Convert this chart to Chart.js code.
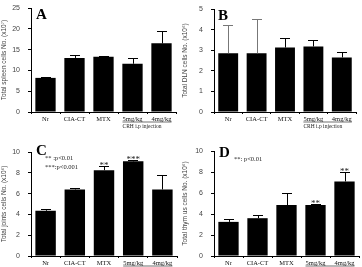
<!DOCTYPE html>
<html>
<head>
<meta charset="utf-8">
<script src="https://cdn.jsdelivr.net/npm/chart.js@4.4.0/dist/chart.umd.min.js"></script>
<style>
  html, body { margin: 0; padding: 0; background: #fff; }
  #wrap { position: relative; width: 362px; height: 267px; overflow: hidden; }
  canvas { position: absolute; }
</style>
</head>
<body>
<div id="wrap">
  <canvas id="cA" width="181" height="134" style="left:0;top:0"></canvas>
  <canvas id="cB" width="181" height="134" style="left:181px;top:0"></canvas>
  <canvas id="cC" width="181" height="133" style="left:0;top:134px"></canvas>
  <canvas id="cD" width="181" height="133" style="left:181px;top:134px"></canvas>
</div>
<script>
// groups on the x axis
const categories = ['Nr', 'CIA-CT', 'MTX', '5mg/kg', '4mg/kg'];

// A - spleen (x10^7)
const spleenMean = [8.2, 13.0, 13.3, 11.6, 16.5];
const spleenErr = [0.2, 0.8, 0.2, 1.4, 2.9];
const spleenTicks = [0, 5, 10, 15, 20, 25];

// B - DLN (x10^6)
const dlnMean = [2.85, 2.85, 3.13, 3.18, 2.65];
const dlnErr = [1.35, 1.65, 0.45, 0.3, 0.25];
const dlnTicks = [0, 1, 2, 3, 4, 5];

// C - joints (x10^6)
const jointMean = [4.35, 6.4, 8.25, 9.1, 6.4];
const jointErr = [0.15, 0.15, 0.45, 0.12, 1.4];
const jointStars = ['', '', '**', '***', ''];
const jointTicks = [0, 2, 4, 6, 8, 10];

// D - thymus (x10^6)
const thymMean = [3.25, 3.6, 4.85, 4.85, 7.1];
const thymErr = [0.25, 0.35, 1.15, 0.1, 0.9];
const thymStars = ['', '', '', '**', '**'];
const thymTicks = [0, 2, 4, 6, 8, 10];

const SANS = '"Liberation Sans", Arial, sans-serif';
const SERIF = '"Liberation Serif", "Times New Roman", serif';

// error bars, stars, letters, notes
const extras = {
  id: 'extras',
  afterDatasetsDraw(chart) {
    const o = chart.options.plugins.extras;
    const c = chart.ctx;
    const ys = chart.scales.y;
    const meta = chart.getDatasetMeta(0);
    c.save();
    meta.data.forEach((bar, i) => {
      const top = ys.getPixelForValue(o.mean[i] + o.err[i]);
      c.strokeStyle = o.errColor[i] || '#000';
      c.lineWidth = 1;
      c.beginPath();
      c.moveTo(Math.round(bar.x) + 0.5, bar.y);
      c.lineTo(Math.round(bar.x) + 0.5, Math.round(top) + 0.5);
      c.moveTo(Math.round(bar.x) - 5, Math.round(top) + 0.5);
      c.lineTo(Math.round(bar.x) + 5, Math.round(top) + 0.5);
      c.stroke();
      if (o.stars && o.stars[i]) {
        c.fillStyle = '#222';
        c.font = '9px ' + SERIF;
        c.textAlign = 'center';
        c.textBaseline = 'alphabetic';
        c.fillText(o.stars[i], bar.x, top + 2);
      }
    });
    // panel letter
    c.fillStyle = '#000';
    c.font = 'bold 15px ' + SERIF;
    c.textAlign = 'left';
    c.textBaseline = 'alphabetic';
    c.fillText(o.letter, o.letterX, o.letterY);
    // p value notes
    c.font = '6.5px ' + SERIF;
    c.fillStyle = '#222';
    (o.notes || []).forEach(n => c.fillText(n[0], n[1], n[2]));
    // CRH bracket under the last two labels
    const xs = chart.scales.x;
    const x1 = xs.getPixelForValue(3) - 10;
    const x2 = xs.getPixelForValue(4) + 10;
    const yb = xs.top + 10;
    c.strokeStyle = '#333';
    c.lineWidth = 0.7;
    c.beginPath();
    c.moveTo(x1, yb);
    c.lineTo(x2, yb);
    c.stroke();
    c.font = '5.5px ' + SERIF;
    c.fillText('CRH i.p injection', x1, yb + 6);
    c.restore();
  }
};

function makeChart(id, p) {
  return new Chart(document.getElementById(id), {
    type: 'bar',
    data: {
      labels: categories,
      datasets: [{
        data: p.mean,
        backgroundColor: '#000',
        borderWidth: 0,
        barPercentage: 0.7,
        categoryPercentage: 1.0
      }]
    },
    options: {
      responsive: false,
      animation: false,
      layout: { padding: { left: 0, top: p.top, right: p.right, bottom: 0 } },
      plugins: {
        legend: { display: false },
        tooltip: { enabled: false },
        extras: {
          mean: p.mean, err: p.err, stars: p.stars, errColor: p.errColor || [],
          letter: p.letter, letterX: p.letterX, letterY: p.letterY, notes: p.notes
        }
      },
      scales: {
        x: {
          afterFit: (s) => { s.height = p.xh; s.paddingLeft = 0; s.paddingRight = 0; },
          grid: { offset: true, drawOnChartArea: false, tickLength: 2, color: '#000' },
          border: { color: '#000', width: 1 },
          ticks: { color: '#111', padding: 1, maxRotation: 0, autoSkip: false, font: { family: SERIF, size: 6.5 } }
        },
        y: {
          min: 0,
          max: p.ticks[p.ticks.length - 1],
          afterFit: (s) => { s.width = p.left; s.paddingTop = 0; s.paddingBottom = 0; },
          afterBuildTicks: (s) => { s.ticks = p.ticks.map(v => ({ value: v })); },
          grid: { drawOnChartArea: false, tickLength: 3, color: '#000' },
          border: { color: '#000', width: 1 },
          ticks: { color: '#444', padding: 8, font: { family: SANS, size: 7 } },
          title: {
            display: true, text: p.title, color: '#444', padding: 0,
            font: { family: SANS, size: 6.5 }
          }
        }
      }
    },
    plugins: [extras]
  });
}

makeChart('cA', {
  mean: spleenMean, err: spleenErr, ticks: spleenTicks,
  title: 'Total spleen cells No. (x10\u2077)',
  left: 31, top: 8, right: 5, xh: 22,
  letter: 'A', letterX: 36, letterY: 19
});
makeChart('cB', {
  mean: dlnMean, err: dlnErr, ticks: dlnTicks, errColor: ['#777', '#777'],
  title: 'Total DLN cells No. (x10\u2076)',
  left: 33, top: 9, right: 6, xh: 22,
  letter: 'B', letterX: 37, letterY: 20
});
makeChart('cC', {
  mean: jointMean, err: jointErr, ticks: jointTicks, stars: jointStars,
  title: 'Total joints cells No. (x10\u2076)',
  left: 31, top: 18, right: 4, xh: 11,
  letter: 'C', letterX: 36, letterY: 21,
  notes: [['** :p<0.01', 45, 26], ['***:p<0.001', 45, 35]]
});
makeChart('cD', {
  mean: thymMean, err: thymErr, ticks: thymTicks, stars: thymStars,
  title: 'Total thym us cells No. (x10\u2076)',
  left: 33, top: 17, right: 3, xh: 11,
  letter: 'D', letterX: 38, letterY: 23,
  notes: [['**: p<0.01', 53, 27]]
});
</script>
</body>
</html>
